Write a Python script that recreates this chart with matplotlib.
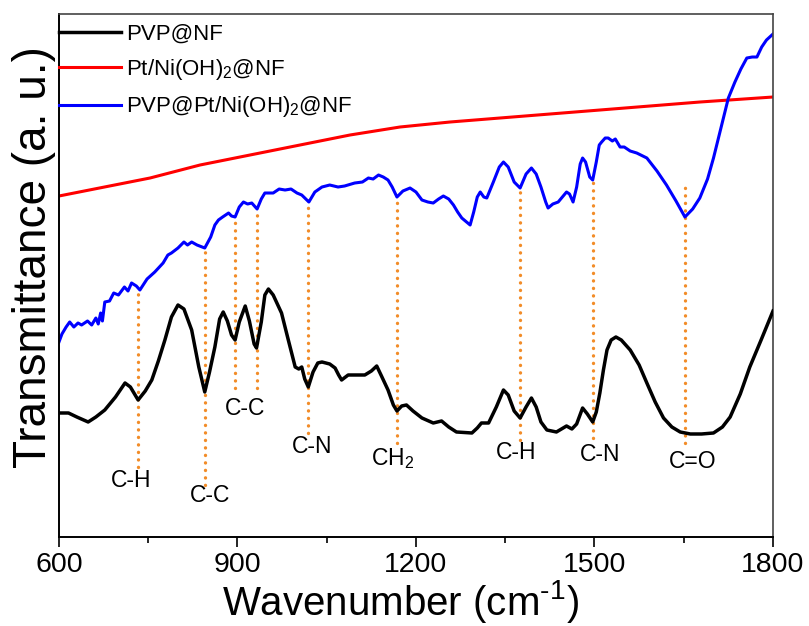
import matplotlib as mpl
mpl.use('Agg')
from matplotlib import pyplot as plt
from matplotlib import font_manager
from matplotlib.ticker import MultipleLocator

# wavenumber (cm-1) and transmittance (a. u.)
wn_pvp = [600, 616, 630, 649, 662, 677, 695, 711, 720, 733, 745, 756, 767, 778, 789, 800,
          810, 823, 835, 845, 853, 862, 870, 876, 883, 890, 896, 903, 913, 920, 928, 932,
          940, 946, 952, 960, 974, 985, 997, 1003, 1008, 1013, 1019, 1027, 1035, 1042,
          1055, 1064, 1070, 1075, 1086, 1114, 1125, 1134, 1142, 1153, 1162, 1168, 1176,
          1184, 1195, 1210, 1229, 1243, 1255, 1268, 1294, 1303, 1310, 1322, 1335, 1347,
          1355, 1365, 1375, 1385, 1394, 1402, 1410, 1420, 1436, 1453, 1462, 1470, 1480,
          1488, 1497, 1503, 1509, 1515, 1521, 1528, 1536, 1545, 1560, 1575, 1588, 1602,
          1616, 1630, 1644, 1661, 1680, 1700, 1715, 1728, 1745, 1761, 1780, 1800]
t_pvp = [12.4, 12.4, 12.0, 11.5, 12.0, 12.7, 14.0, 15.4, 15.0, 13.7, 14.6, 15.7, 17.6, 19.7,
         22.0, 23.2, 22.8, 20.7, 17.0, 14.5, 16.5, 19.0, 21.8, 22.5, 21.6, 20.2, 19.7, 21.5,
         23.1, 21.6, 19.3, 18.9, 21.5, 24.2, 24.8, 24.2, 22.4, 19.8, 17.0, 16.8, 17.0, 15.8,
         15.0, 16.5, 17.4, 17.5, 17.3, 16.9, 16.2, 15.7, 16.2, 16.2, 16.6, 17.1, 16.1, 14.7,
         13.2, 12.6, 13.1, 13.2, 12.6, 11.9, 11.4, 11.6, 11.0, 10.5, 10.4, 10.9, 11.4, 11.4,
         13.0, 14.7, 14.2, 12.6, 11.9, 13.0, 13.9, 13.0, 11.5, 10.7, 10.5, 11.1, 10.8, 11.3,
         12.9, 12.3, 11.5, 12.5, 14.4, 16.7, 18.7, 19.7, 20.0, 19.7, 18.7, 17.2, 15.4, 13.5,
         11.9, 11.0, 10.5, 10.3, 10.3, 10.4, 11.0, 12.0, 14.3, 17.0, 19.7, 22.6]

wn_pt = [600, 753, 837, 921, 1005, 1089, 1173, 1257, 1341, 1425, 1509, 1593, 1677, 1800]
t_pt = [34.1, 35.9, 37.2, 38.2, 39.2, 40.2, 41.0, 41.5, 41.9, 42.3, 42.7, 43.1, 43.5, 44.0]

wn_pvp_pt = [600, 605, 612, 618, 625, 632, 638, 648, 655, 662, 666, 670, 673, 677, 685, 692,
             700, 710, 716, 722, 730, 736, 748, 761, 775, 783, 789, 800, 810, 816, 823, 832,
             845, 855, 862, 868, 875, 885, 890, 896, 903, 910, 917, 924, 933, 940, 946, 960,
             970, 980, 990, 1000, 1008, 1020, 1030, 1042, 1055, 1069, 1080, 1097, 1110,
             1120, 1128, 1137, 1145, 1153, 1160, 1168, 1178, 1190, 1200, 1210, 1220, 1229,
             1238, 1246, 1255, 1263, 1270, 1277, 1285, 1291, 1297, 1303, 1308, 1314, 1319,
             1330, 1340, 1347, 1355, 1365, 1375, 1385, 1394, 1402, 1410, 1418, 1422, 1430,
             1439, 1446, 1453, 1458, 1464, 1470, 1476, 1480, 1485, 1492, 1497, 1503, 1508,
             1512, 1518, 1523, 1530, 1535, 1543, 1550, 1560, 1571, 1588, 1605, 1621, 1637,
             1652, 1665, 1677, 1690, 1700, 1712, 1725, 1736, 1746, 1756, 1765, 1773, 1781,
             1789, 1800]
t_pvp_pt = [19.5, 20.3, 21.0, 21.5, 21.0, 21.4, 21.2, 21.6, 21.2, 21.9, 21.3, 22.4, 21.6,
            23.5, 23.6, 24.4, 24.2, 25.0, 24.6, 25.4, 25.1, 24.7, 25.8, 26.5, 27.4, 28.2,
            28.4, 28.9, 29.5, 29.2, 29.5, 29.2, 28.9, 30.0, 31.2, 31.7, 32.0, 32.4, 32.1,
            32.0, 33.0, 33.5, 33.3, 33.4, 32.8, 33.8, 34.4, 34.4, 34.8, 34.7, 34.8, 34.4,
            34.2, 33.5, 34.5, 35.0, 35.2, 35.0, 35.1, 35.4, 35.5, 35.9, 35.8, 36.2, 36.0,
            35.7, 35.0, 34.0, 34.6, 34.9, 34.5, 33.7, 33.5, 33.4, 33.8, 34.1, 33.8, 33.2,
            32.5, 31.9, 31.5, 31.2, 32.5, 34.0, 34.5, 34.0, 33.9, 35.5, 37.0, 37.5, 37.0,
            35.5, 34.9, 36.3, 36.9, 36.3, 35.0, 33.5, 32.9, 33.3, 33.5, 34.0, 34.5, 34.3,
            33.5, 35.0, 37.3, 37.9, 37.5, 36.0, 35.7, 37.5, 39.2, 39.5, 39.9, 39.9, 39.6,
            39.8, 39.0, 39.0, 38.6, 38.4, 37.9, 36.6, 35.2, 33.6, 32.0, 32.8, 33.9, 35.8,
            37.9, 40.8, 43.9, 45.5, 46.8, 47.9, 48.0, 48.0, 49.0, 49.7, 50.3]

# band assignments: position, dotted line top/bottom, label and label position
band_wn = [733, 846, 896, 933, 1019, 1168, 1375, 1497, 1652]
band_top = [24.7, 29.0, 31.9, 32.9, 33.7, 33.9, 34.9, 35.7, 35.2]
band_bot = [7.0, 5.2, 14.9, 14.9, 10.4, 9.4, 9.7, 9.9, 9.4]
lab_text = ['C-H', 'C-C', 'C-C', 'C-N', r'CH$_\mathregular{2}$', 'C-H', 'C-N', 'C=O']
lab_wn = [721, 854, 912, 1025, 1161, 1369, 1509, 1665]
lab_t = [5.6, 4.1, 12.8, 9.0, 7.8, 8.4, 8.2, 7.5]

names = {f.name for f in font_manager.fontManager.ttflist}
if 'Liberation Sans Narrow' in names:
    narrow = 'Liberation Sans Narrow'
    tick_fs, xlab_fs = 23, 35
else:
    narrow = 'Liberation Sans'
    tick_fs, xlab_fs = 20.5, 29

plt.rcParams['font.family'] = ['Liberation Sans', 'DejaVu Sans']
plt.rcParams['mathtext.fontset'] = 'custom'
plt.rcParams['mathtext.rm'] = 'Liberation Sans'

fig = plt.figure(figsize=(8.09, 6.26), dpi=100)
ax = fig.add_axes([0.0729, 0.1422, 0.8826, 0.8354])

for x, y0, y1 in zip(band_wn, band_bot, band_top):
    ax.plot([x, x], [y0, y1], color='#F28C28', linewidth=2.4,
            linestyle=(0, (0.05, 2.2)), dash_capstyle='round', zorder=1)

ax.plot(wn_pvp, t_pvp, color='black', linewidth=2.5, label='PVP@NF', zorder=3,
        solid_joinstyle='round')
ax.plot(wn_pt, t_pt, color='#FF0000', linewidth=2.2, label=r'Pt/Ni(OH)$_\mathregular{2}$@NF', zorder=2)
ax.plot(wn_pvp_pt, t_pvp_pt, color='#0000FF', linewidth=2.2,
        label=r'PVP@Pt/Ni(OH)$_\mathregular{2}$@NF', zorder=2, solid_joinstyle='round')

for s, x, y in zip(lab_text, lab_wn, lab_t):
    ax.text(x, y, s, fontsize=16.5, ha='center', va='center')

ax.set_xlim(600, 1800)
ax.set_ylim(0, 52.3)
ax.xaxis.set_major_locator(MultipleLocator(300))
ax.xaxis.set_minor_locator(MultipleLocator(150))
ax.set_yticks([])
ax.tick_params(axis='x', which='major', direction='out', length=7.5, width=1.2,
               labelsize=tick_fs, pad=3)
ax.tick_params(axis='x', which='minor', direction='out', length=4.5, width=1.2)
for lab in ax.get_xticklabels():
    lab.set_family(narrow)
for side in ['left', 'bottom']:
    ax.spines[side].set_linewidth(1.4)
for side in ['top', 'right']:
    ax.spines[side].set_linewidth(1.2)
    ax.spines[side].set_color('#444444')

ax.set_xlabel(r'Wavenumber (cm$^{\text{-1}}$)', fontsize=xlab_fs, family=narrow,
              labelpad=0, x=0.478)
ax.set_ylabel('Transmittance (a. u.)', fontsize=33, labelpad=2, y=0.535)

ax.legend(loc='upper left', bbox_to_anchor=(0.0, 0.981), frameon=False, fontsize=16,
          handlelength=2.8, handletextpad=0.22, labelspacing=0.55, borderaxespad=0,
          borderpad=0)

fig.savefig('out.png', dpi=100)
